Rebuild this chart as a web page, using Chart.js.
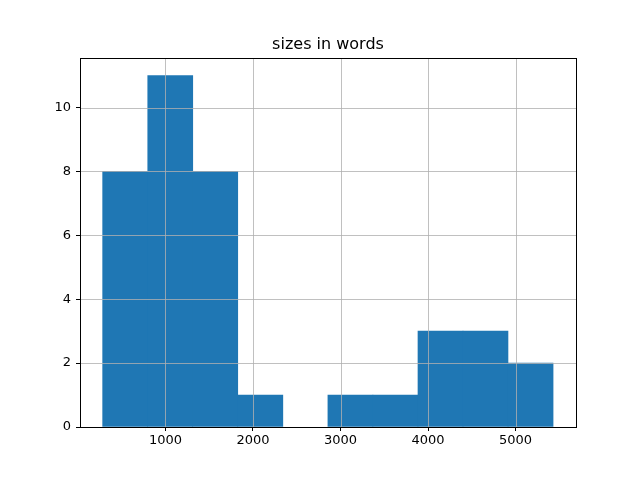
<!DOCTYPE html>
<html>
<head>
<meta charset="utf-8">
<script src="https://cdn.jsdelivr.net/npm/chart.js@4"></script>
<style>
  html, body { margin: 0; padding: 0; background: #fff; }
  #wrap { width: 640px; height: 480px; }
</style>
</head>
<body>
<div id="wrap"><canvas id="histChart" width="640" height="480"></canvas></div>
<script>
const chartTitle = "sizes in words";
// histogram bin centres (word counts) and counts per bin
const binCenters = [540, 1055, 1569, 2084, 2598, 3113, 3627, 4142, 4656, 5171];
const binCounts = [8, 11, 8, 1, 0, 1, 1, 3, 3, 2];
const xTicks = [1000, 2000, 3000, 4000, 5000];
const yTicks = [0, 2, 4, 6, 8, 10];

const FONT = "'DejaVu Sans', sans-serif";

// matplotlib puts the grid above the bars, so draw it after the datasets
const gridOnTop = {
  id: "gridOnTop",
  afterDatasetsDraw(chart) {
    const { ctx, chartArea: a, scales } = chart;
    ctx.save();
    ctx.strokeStyle = "#b0b0b0";
    ctx.lineWidth = 0.8;
    xTicks.forEach((v) => {
      const px = Math.round(scales.x.getPixelForValue(v)) + 0.5;
      ctx.beginPath();
      ctx.moveTo(px, a.top);
      ctx.lineTo(px, a.bottom);
      ctx.stroke();
    });
    yTicks.forEach((v) => {
      const py = Math.round(scales.y.getPixelForValue(v)) + 0.5;
      ctx.beginPath();
      ctx.moveTo(a.left, py);
      ctx.lineTo(a.right, py);
      ctx.stroke();
    });
    // frame
    ctx.strokeStyle = "#000";
    ctx.lineWidth = 1;
    ctx.strokeRect(Math.round(a.left) + 0.5, Math.round(a.top) + 0.5,
      Math.round(a.right - a.left), Math.round(a.bottom - a.top));
    // title
    ctx.fillStyle = "#000";
    ctx.font = "16px " + FONT;
    ctx.textAlign = "center";
    ctx.textBaseline = "alphabetic";
    ctx.fillText(chartTitle, (a.left + a.right) / 2, a.top - 9);
    ctx.restore();
  },
};

const ctx = document.getElementById("histChart").getContext("2d");
new Chart(ctx, {
  type: "bar",
  data: {
    datasets: [
      {
        data: binCenters.map((x, i) => ({ x: x, y: binCounts[i] })),
        backgroundColor: "#1f77b4",
        borderWidth: 0,
        barPercentage: 1,
        categoryPercentage: 1,
        grouped: false,
        // empty bins should leave no sliver on the baseline
        inflateAmount: (c) => (binCounts[c.dataIndex] === 0 ? 0 : "auto"),
      },
    ],
  },
  options: {
    responsive: false,
    animation: false,
    layout: { padding: { left: 0, right: 64, top: 58, bottom: 0 } },
    scales: {
      x: {
        type: "linear",
        min: 24,
        max: 5690,
        offset: false,
        afterBuildTicks: (scale) => {
          scale.ticks = xTicks.map((v) => ({ value: v }));
        },
        afterFit: (scale) => {
          scale.height = 53;
        },
        ticks: {
          color: "#000",
          font: { family: FONT, size: 13 },
          padding: 2,
          maxRotation: 0,
          callback: (v) => String(v),
        },
        grid: {
          offset: false,
          drawOnChartArea: false,
          tickLength: 4,
          tickColor: "#000",
        },
        border: { display: false },
      },
      y: {
        min: 0,
        max: 11.55,
        afterBuildTicks: (scale) => {
          scale.ticks = yTicks.map((v) => ({ value: v }));
        },
        afterFit: (scale) => {
          scale.width = 80;
        },
        ticks: {
          color: "#000",
          font: { family: FONT, size: 13 },
          padding: 5,
          callback: (v) => String(v),
        },
        grid: {
          drawOnChartArea: false,
          tickLength: 4,
          tickColor: "#000",
        },
        border: { display: false },
      },
    },
    plugins: {
      legend: { display: false },
      title: { display: false },
      tooltip: { enabled: false },
    },
  },
  plugins: [gridOnTop],
});
</script>
</body>
</html>
